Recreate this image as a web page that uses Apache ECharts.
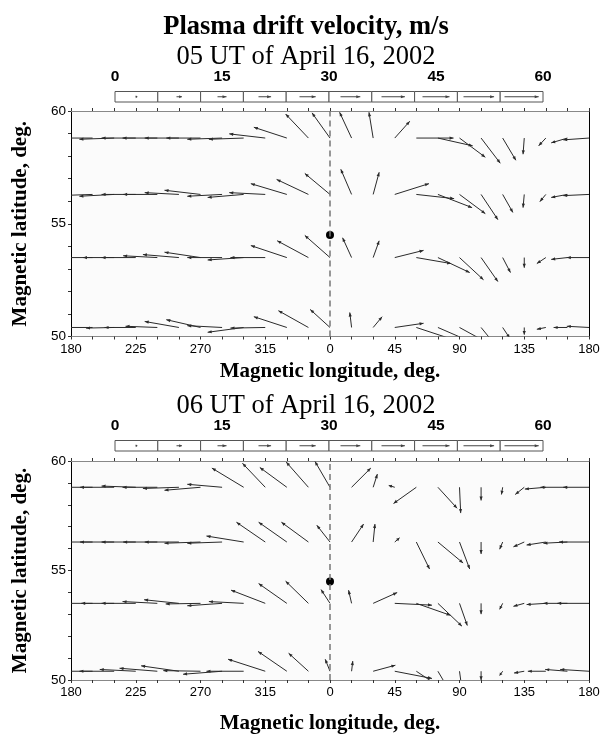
<!DOCTYPE html>
<html><head><meta charset="utf-8">
<script src="https://cdn.jsdelivr.net/npm/echarts@6/dist/echarts.min.js"></script>
<style>html,body{margin:0;padding:0;background:#fff}#chart{width:613px;height:735px}</style>
</head><body><div id="chart"></div>
<script>
// Grid longitudes (unwrapped: 180..540 = 180E .. 0 .. 180E)
const gridLon = [180,195,210,225,240,255,270,285,300,315,330,345,360,375,390,405,420,435,450,465,480,495,510,525,540];
const rowLat = [58.8, 56.3, 53.5, 50.4];
const xTickValues = [180,225,270,315,360,405,450,495,540];
const xTickLabels = ['180','225','270','315','0','45','90','135','180'];
const yTickValues = [50,55,60];
const legendTicks = [0,15,30,45,60];
const legendSpeeds = [3,9,15,21,27,33,39,45,51,57];
const stationLon = 360, stationLat = 54.5;

// 05 UT: eastward / northward velocity, m/s
const ve05_r1 = [-43,-58,-58,-57,-58,-57,-57,-58,-58,-60,-55,-38,-30,-20,-7,25,62,58,43,32,22,-2,-12,-27,-43];
const vn05_r1 = [-3,0,-2,0,0,0,0,-2,-2,7,18,40,42,43,43,28,0,-13,-32,-42,-37,-27,-13,-8,-3];
const ve05_r2 = [-43,-58,-58,-57,-57,-57,-60,-58,-60,-60,-60,-53,-42,-18,10,57,63,57,43,28,17,-2,-10,-27,-43];
const vn05_r2 = [-2,-2,-3,0,0,3,7,-3,-5,3,18,25,35,42,37,18,-7,-22,-32,-42,-30,-22,-12,-5,-2];
const ve05_r3 = [-37,-53,-52,-57,-57,-60,-60,-58,-60,-58,-60,-52,-42,-15,10,48,58,53,40,28,13,0,-15,-27,-37];
const vn05_r3 = [0,0,0,0,3,5,9,0,-4,0,20,28,37,33,28,12,-10,-25,-37,-40,-25,-17,-10,-3,0];
const ve05_r4 = [-37,-47,-47,-52,-53,-57,-57,-58,-60,-58,-55,-50,-33,-3,15,48,70,53,42,22,12,0,-15,-23,-37];
const vn05_r4 = [2,0,-1,0,2,10,13,3,-8,-1,18,28,30,25,18,7,-23,-23,-23,-27,-18,-12,-3,0,2];

// 06 UT
const ve06_r1 = [-43,-57,-57,-57,-58,-60,-60,-58,-53,-38,-45,-37,-25,32,7,-10,-38,32,2,0,-2,-15,-35,-45,-43];
const vn06_r1 = [0,0,0,2,0,-2,-5,5,32,40,33,42,43,32,22,3,-27,-35,-43,-22,-12,-12,-3,0,0];
const ve06_r2 = [-50,-57,-57,-57,-57,-57,-60,-58,-62,-48,-47,-45,-22,20,3,8,22,42,17,0,-5,-18,-32,-40,-50];
const vn06_r2 = [0,0,0,0,0,0,-2,-2,10,33,33,33,28,30,30,7,-45,-35,-45,-20,-12,-8,-5,-2,0];
const ve06_r3 = [-53,-55,-55,-57,-58,-58,-58,-58,-58,-57,-47,-38,-15,-5,40,62,57,40,13,0,-5,-18,-32,-40,-53];
const vn06_r3 = [0,0,0,0,3,6,-1,-4,3,22,33,37,23,22,18,-3,-20,-38,-37,-18,-10,-5,-2,0,0];
const ve06_r4 = [-48,-58,-58,-60,-63,-63,-62,-65,-62,-62,-48,-33,-8,2,37,62,30,13,3,0,-5,-17,-30,-37,-48];
const vn06_r4 = [3,0,0,3,5,9,1,-5,0,20,33,30,20,17,10,-12,-20,-22,-22,-15,-7,-3,0,3,3];

const S = 0.6; // arrow px per m/s
const ARROW = '#2a2a2a';

function buildData(ves, vns){
  const out = [];
  for (let r = 0; r < rowLat.length; r++)
    for (let i = 0; i < gridLon.length; i++)
      out.push([gridLon[i], rowLat[r], ves[r][i], vns[r][i]]);
  return out;
}
const data05 = buildData([ve05_r1,ve05_r2,ve05_r3,ve05_r4],[vn05_r1,vn05_r2,vn05_r3,vn05_r4]);
const data06 = buildData([ve06_r1,ve06_r2,ve06_r3,ve06_r4],[vn06_r1,vn06_r2,vn06_r3,vn06_r4]);

function arrow(x0,y0,x1,y1,color){
  const c = color || ARROW;
  const dx=x1-x0, dy=y1-y0, len=Math.hypot(dx,dy);
  const ch=[{type:'line',shape:{x1:x0,y1:y0,x2:x1,y2:y1},style:{stroke:c,lineWidth:1}}];
  if(len>0.5){
    const ux=dx/len, uy=dy/len, hl=Math.min(4,Math.max(1.5,len*0.5)), hw=1.6;
    const bx=x1-ux*hl, by=y1-uy*hl;
    ch.push({type:'polygon',shape:{points:[[x1,y1],[bx-uy*hw,by+ux*hw],[bx+uy*hw,by-ux*hw]]},style:{fill:c}});
  }
  return ch;
}
function renderVec(params, api){
  const p = api.coord([api.value(0), api.value(1)]);
  const x1 = p[0] + api.value(2)*S, y1 = p[1] - api.value(3)*S;
  return {type:'group', children: arrow(p[0],p[1],x1,y1)};
}
function renderLegend(params, api){
  const a = api.coord([api.value(0), 0]);
  const b = api.coord([api.value(1), 1]);
  const cx = (a[0]+b[0])/2, cy = (a[1]+b[1])/2, L = api.value(2)*S;
  return {type:'group', children:[
    {type:'rect', shape:{x:a[0], y:b[1], width:b[0]-a[0], height:a[1]-b[1]}, style:{fill:'#fff', stroke:'#555', lineWidth:1}},
    ...arrow(cx-L/2, cy, cx+L/2, cy, '#444')
  ]};
}
const legendData = legendSpeeds.map((s,i)=>[legendTicks[0]+i*6, legendTicks[0]+(i+1)*6, s]);

const serif = 'Liberation Serif, Times New Roman, serif';
const sans = 'Liberation Sans, Arial, sans-serif';

const plotGrids = [
  {left:71, top:111, width:518, height:225.5, show:true, backgroundColor:'#fbfbfb', borderWidth:0},
  {left:71, top:461, width:518, height:222, show:true, backgroundColor:'#fbfbfb', borderWidth:0}
];
const legendGrids = [
  {left:115, top:91.5, width:428, height:10.5},
  {left:115, top:440.5, width:428, height:10.5}
];

const xAxes = [], yAxes = [];
[0,1].forEach(g=>{
  xAxes.push({gridIndex:g, type:'value', min:180, max:540, interval:15, position:'bottom',
    axisLine:{onZero:false, lineStyle:{color:'#888', width:1}},
    axisTick:{length:3, lineStyle:{color:'#333'}},
    axisLabel:{color:'#000', fontSize:13, fontFamily:sans, margin:6,
      formatter:v=>{const k=xTickValues.indexOf(v); return k>=0?xTickLabels[k]:'';}},
    splitLine:{show:false},
    name:'Magnetic longitude, deg.', nameLocation:'middle', nameGap:g===0?25:33,
    nameTextStyle:{fontFamily:serif, fontWeight:'bold', fontSize:21, color:'#000'}});
  xAxes.push({gridIndex:g, type:'value', min:180, max:540, interval:15, position:'top',
    axisLine:{onZero:false, lineStyle:{color:'#888', width:1}},
    axisTick:{length:3, lineStyle:{color:'#333'}}, axisLabel:{show:false}, splitLine:{show:false}});
  yAxes.push({gridIndex:g, type:'value', min:50, max:60, interval:1, position:'left',
    axisLine:{show:true, onZero:false, lineStyle:{color:'#000', width:1}},
    axisTick:{show:true, length:3, lineStyle:{color:'#333'}},
    axisLabel:{color:'#000', fontSize:13.5, fontFamily:sans, margin:5,
      formatter:v=>yTickValues.indexOf(v)>=0?String(v):''},
    splitLine:{show:false},
    name:'Magnetic latitude, deg.', nameLocation:'middle', nameGap:40, nameRotate:90,
    nameTextStyle:{fontFamily:serif, fontWeight:'bold', fontSize:21, color:'#000'}});
  yAxes.push({gridIndex:g, type:'value', min:50, max:60, position:'right',
    axisLine:{show:true, onZero:false, lineStyle:{color:'#000', width:1}},
    axisTick:{show:false}, axisLabel:{show:false}, splitLine:{show:false}});
});
[0,1].forEach(k=>{
  const g = 2+k;
  xAxes.push({gridIndex:g, type:'value', min:legendTicks[0], max:legendTicks[legendTicks.length-1], interval:15, position:'top',
    axisLine:{show:false}, axisTick:{show:false}, splitLine:{show:false},
    axisLabel:{color:'#000', fontSize:15.5, fontWeight:'bold', fontFamily:sans, margin:7}});
  yAxes.push({gridIndex:g, type:'value', min:0, max:1, show:false});
});

const series = [];
[data05, data06].forEach((d,g)=>{
  series.push({type:'custom', coordinateSystem:'cartesian2d', xAxisIndex:g*2, yAxisIndex:g*2,
    clip:true, renderItem:renderVec, data:d, encode:{x:0,y:1}, silent:true, z:3,
    markLine:{silent:true, symbol:'none', label:{show:false},
      lineStyle:{type:[6,4], color:'#777', width:1.5}, data:[{xAxis:stationLon}]}});
  series.push({type:'scatter', xAxisIndex:g*2, yAxisIndex:g*2, data:[[stationLon, stationLat]],
    symbolSize:8, itemStyle:{color:'#000', opacity:1}, z:4, silent:true});
});
[0,1].forEach(k=>{
  series.push({type:'custom', coordinateSystem:'cartesian2d', xAxisIndex:4+k, yAxisIndex:4+k,
    renderItem:renderLegend, data:legendData, encode:{x:[0,1]}, silent:true});
});

const chart = echarts.init(document.getElementById('chart'), null, {renderer:'canvas'});
chart.setOption({
  animation:false,
  backgroundColor:'#fff',
  title:[
    {text:'Plasma drift velocity, m/s', left:301, textAlign:'center', top:9, textStyle:{fontFamily:serif, fontWeight:'bold', fontSize:26.5, color:'#000'}},
    {text:'05 UT of April 16, 2002', left:301, textAlign:'center', top:38.5, textStyle:{fontFamily:serif, fontWeight:'normal', fontSize:26.5, color:'#000'}},
    {text:'06 UT of April 16, 2002', left:301, textAlign:'center', top:388, textStyle:{fontFamily:serif, fontWeight:'normal', fontSize:26.5, color:'#000'}}
  ],
  grid: plotGrids.concat(legendGrids),
  xAxis: xAxes,
  yAxis: yAxes,
  series: series
});
</script></body></html>
